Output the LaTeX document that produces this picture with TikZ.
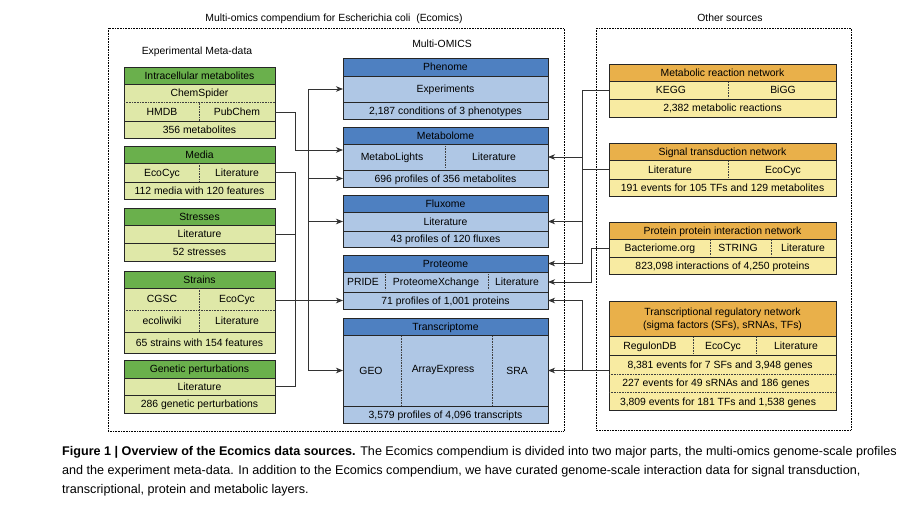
\documentclass[tikz,border=0pt]{standalone}
\usepackage{fontspec}
\setmainfont{Liberation Sans}
\usetikzlibrary{arrows.meta,positioning}
\definecolor{greenhead}{HTML}{6AB04C}
\definecolor{greenbody}{HTML}{DFE8A8}
\definecolor{bluehead}{HTML}{4E80C1}
\definecolor{bluebody}{HTML}{AFC7E5}
\definecolor{orangehead}{HTML}{E9B04A}
\definecolor{orangebody}{HTML}{F8EBA2}
\tikzset{
  txt/.style = {inner sep=0pt, text height=7.45pt, text depth=0pt, font=\fontsize{10.4}{12.5}\selectfont},
  cell/.style = {txt, draw=black!85, line width=0.7pt, outer sep=0pt},
  metahead/.style = {cell, minimum width=151pt, fill=greenhead},
  metarow/.style = {cell, minimum width=151pt, fill=greenbody},
  omicshead/.style = {cell, minimum width=205pt, fill=bluehead},
  omicsrow/.style = {cell, minimum width=205pt, fill=bluebody},
  otherhead/.style = {cell, minimum width=227pt, fill=orangehead},
  otherrow/.style = {cell, minimum width=227pt, fill=orangebody},
  divider/.style = {densely dotted, black!75, line width=0.6pt},
  outline/.style = {densely dotted, black, line width=0.6pt},
  link/.style = {black!80, line width=0.8pt},
  caption/.style = {inner sep=0pt, font=\fontsize{12.6}{14}\selectfont}
}

\begin{document}
\begin{tikzpicture}[x=1pt,y=-1pt,>={Stealth[length=7pt,width=5.5pt,inset=2pt]}]
\useasboundingbox (0,0) rectangle (910,506);

\draw[outline] (108,28) rectangle (564,431);
\draw[outline] (596,28) rectangle (851,430);
\node[txt] (titleeco) at (334,18) {Multi-omics compendium for Escherichia coli\ \ (Ecomics)};
\node[txt] (titleother) at (730,18) {Other sources};
\node[txt] (titlemeta) at (197,51) {Experimental Meta-data};
\node[txt] (titleomics) at (442,44) {Multi-OMICS};

% meta-data
\node[metahead, minimum height=17pt, anchor=north west] (ic1) at (124,67) {Intracellular metabolites};
\node[metarow, minimum height=37pt, below=0pt of ic1] (ic2) {};
\node[metarow, minimum height=17pt, below=0pt of ic2] (ic3) {356 metabolites};
\node[txt] (ic2a) at (199.5,93) {ChemSpider};
\node[txt] (ic2b) at (162,112) {HMDB};
\node[txt] (ic2c) at (237,112) {PubChem};
\draw[divider] (124,102) -- (275,102);
\draw[divider] (ic2.center) -- (ic2.south);

\node[metahead, minimum height=17pt, anchor=north west] (md1) at (124,146) {Media};
\node[metarow, minimum height=19pt, below=0pt of md1] (md2) {};
\node[metarow, minimum height=17pt, below=0pt of md2] (md3) {112 media with 120 features};
\node[txt] (md2a) at (162,172.5) {EcoCyc};
\node[txt] (md2b) at (237,172.5) {Literature};
\draw[divider] (md2.north) -- (md2.south);

\node[metahead, minimum height=17pt, anchor=north west] (ss1) at (124,208) {Stresses};
\node[metarow, minimum height=18pt, below=0pt of ss1] (ss2) {Literature};
\node[metarow, minimum height=18pt, below=0pt of ss2] (ss3) {52 stresses};

\node[metahead, minimum height=17pt, anchor=north west] (st1) at (124,271) {Strains};
\node[metarow, minimum height=44pt, below=0pt of st1] (st2) {};
\node[metarow, minimum height=21pt, below=0pt of st2] (st3) {65 strains with 154 features};
\node[txt] (st2a) at (162,299) {CGSC};
\node[txt] (st2b) at (237,299) {EcoCyc};
\node[txt] (st2c) at (162,321) {ecoliwiki};
\node[txt] (st2d) at (237,321) {Literature};
\draw[divider] (st2.west) -- (st2.east);
\draw[divider] (st2.north) -- (st2.south);

\node[metahead, minimum height=18pt, anchor=north west] (gp1) at (124,360) {Genetic perturbations};
\node[metarow, minimum height=17pt, below=0pt of gp1] (gp2) {Literature};
\node[metarow, minimum height=18pt, below=0pt of gp2] (gp3) {286 genetic perturbations};

% multi-omics
\node[omicshead, minimum height=18pt, anchor=north west] (ph1) at (343,58) {Phenome};
\node[omicsrow, minimum height=26pt, below=0pt of ph1] (ph2) {Experiments};
\node[omicsrow, minimum height=17pt, below=0pt of ph2] (ph3) {2,187 conditions of 3 phenotypes};

\node[omicshead, minimum height=17pt, anchor=north west] (mb1) at (343,127) {Metabolome};
\node[omicsrow, minimum height=26pt, below=0pt of mb1] (mb2) {};
\node[omicsrow, minimum height=17pt, below=0pt of mb2] (mb3) {696 profiles of 356 metabolites};
\node[txt] (mb2a) at (392,157) {MetaboLights};
\node[txt] (mb2b) at (494,157) {Literature};
\draw[divider] ([yshift=-2pt]mb2.north) -- ([yshift=2pt]mb2.south);

\node[omicshead, minimum height=17pt, anchor=north west] (fx1) at (343,195) {Fluxome};
\node[omicsrow, minimum height=19pt, below=0pt of fx1] (fx2) {Literature};
\node[omicsrow, minimum height=16pt, below=0pt of fx2] (fx3) {43 profiles of 120 fluxes};

\node[omicshead, minimum height=17pt, anchor=north west] (pr1) at (343,255) {Proteome};
\node[omicsrow, minimum height=20pt, below=0pt of pr1] (pr2) {};
\node[omicsrow, minimum height=17pt, below=0pt of pr2] (pr3) {71 profiles of 1,001 proteins};
\node[txt] (pr2a) at (363,282) {PRIDE};
\node[txt] (pr2b) at (436,282) {ProteomeXchange};
\node[txt] (pr2c) at (517,282) {Literature};
\draw[divider] (385,274) -- (385,290);
\draw[divider] (488,274) -- (488,290);

\node[omicshead, minimum height=17pt, anchor=north west] (tc1) at (343,318) {Transcriptome};
\node[omicsrow, minimum height=71pt, below=0pt of tc1] (tc2) {};
\node[omicsrow, minimum height=17pt, below=0pt of tc2] (tc3) {3,579 profiles of 4,096 transcripts};
\node[txt] (tc2a) at (371,371) {GEO};
\node[txt] (tc2b) at (443,369) {ArrayExpress};
\node[txt] (tc2c) at (517,371) {SRA};
\draw[divider] (401,336) -- (401,405);
\draw[divider] (492,336) -- (492,405);

% other sources
\node[otherhead, minimum height=17pt, anchor=north west] (mr1) at (609,64) {Metabolic reaction network};
\node[otherrow, minimum height=18pt, below=0pt of mr1] (mr2) {};
\node[otherrow, minimum height=18pt, below=0pt of mr2] (mr3) {2,382 metabolic reactions};
\node[txt] (mr2a) at (671,90) {KEGG};
\node[txt] (mr2b) at (783,90) {BiGG};
\draw[divider] (728,82) -- (728,98);

\node[otherhead, minimum height=17pt, anchor=north west] (sg1) at (609,143) {Signal transduction network};
\node[otherrow, minimum height=19pt, below=0pt of sg1] (sg2) {};
\node[otherrow, minimum height=17pt, below=0pt of sg2] (sg3) {191 events for 105 TFs and 129 metabolites};
\node[txt] (sg2a) at (670,169.5) {Literature};
\node[txt] (sg2b) at (783,169.5) {EcoCyc};
\draw[divider] (728,161) -- (728,178);

\node[otherhead, minimum height=17pt, anchor=north west] (pp1) at (609,222) {Protein protein interaction network};
\node[otherrow, minimum height=18pt, below=0pt of pp1] (pp2) {};
\node[otherrow, minimum height=17pt, below=0pt of pp2] (pp3) {823,098 interactions of 4,250 proteins};
\node[txt] (pp2a) at (660,248) {Bacteriome.org};
\node[txt] (pp2b) at (738,248) {STRING};
\node[txt] (pp2c) at (803,248) {Literature};
\draw[divider] (710,240) -- (710,256);
\draw[divider] (771,240) -- (771,256);

\node[otherhead, minimum height=35pt, anchor=north west, align=center, text height=19.95pt] (tr1) at (609,301) {Transcriptional regulatory network\\(sigma factors (SFs), sRNAs, TFs)};
\node[otherrow, minimum height=19pt, below=0pt of tr1] (tr2) {};
\node[otherrow, minimum height=55pt, below=0pt of tr2] (tr3) {};
\node[txt] (tr2a) at (650,345.5) {RegulonDB};
\node[txt] (tr2b) at (723,345.5) {EcoCyc};
\node[txt] (tr2c) at (796,345.5) {Literature};
\draw[divider] (693,337) -- (693,354);
\draw[divider] (756,337) -- (756,354);
\node[txt] (tr3a) at (720,364.5) {8,381 events for 7 SFs and 3,948 genes};
\node[txt] (tr3b) at (716,383) {227 events for 49 sRNAs and 186 genes};
\node[txt] (tr3c) at (718,401.5) {3,809 events for 181 TFs and 1,538 genes};
\draw[divider] (609,374) -- (836,374);
\draw[divider] (609,392.5) -- (836,392.5);

% connectors
\coordinate (la) at (295,0);
\coordinate (lb) at (308,0);
\coordinate (rc) at (582,0);
\coordinate (pc) at (591,0);
\coordinate (icout) at ([yshift=-9.5pt]ic2.east);
\coordinate (mbin) at ([yshift=7pt]mb2.west);

\draw[link,->] (icout) -| (la |- mbin) -- (mbin);
\draw[link] (md2.east) -| (la |- gp2.east) -- (gp2.east);
\draw[link] (ss2.east) -- (la |- ss2.east);
\draw[link,->] (st2.east |- pr3.west) -- (pr3.west);
\draw[link,<->] (ph2.west) -- (lb |- ph2.west) |- (tc2.west);
\draw[link,->] (lb |- mb3.west) -- (mb3.west);
\draw[link,->] (lb |- fx2.west) -- (fx2.west);

\draw[link,->] (mr2.west) -| (rc |- pr1.east) -- (pr1.east);
\draw[link,->] (rc |- mb2.east) -- (mb2.east);
\draw[link,->] (rc |- fx2.east) -- (fx2.east);
\draw[link] (sg2.west) -- (rc |- sg2.west);
\draw[link,->] (pp2.west) -| (pc |- pr2.east) -- (pr2.east);
\draw[link,->] (tr3.west |- tc2.east) -- (tc2.east);
\draw[link,->] (rc |- tc2.east) |- (pr3.east);

% caption
\node[caption, anchor=base west] (cap1) at (62,455) {\textbf{Figure 1 | Overview of the Ecomics data sources.} The Ecomics compendium is divided into two major parts, the multi-omics genome-scale profiles};
\node[caption, anchor=base west] (cap2) at (62,474) {and the experiment meta-data. In addition to the Ecomics compendium, we have curated genome-scale interaction data for signal transduction,};
\node[caption, anchor=base west] (cap3) at (62,493) {transcriptional, protein and metabolic layers.};
\end{tikzpicture}
\end{document}
